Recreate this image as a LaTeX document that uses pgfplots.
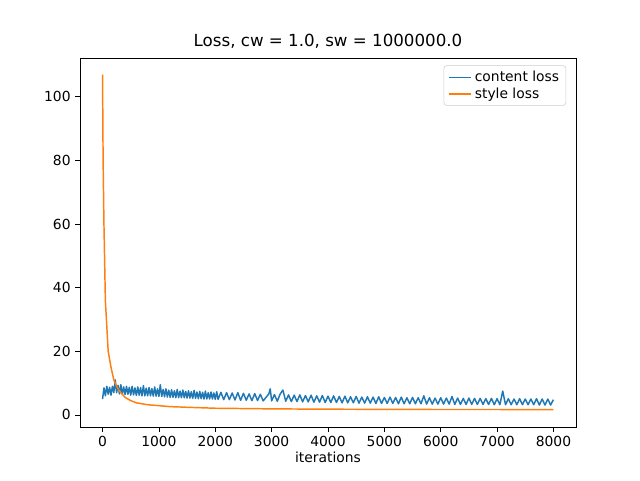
\documentclass[border=0pt]{standalone}
\usepackage{pgfplots}
\pgfplotsset{compat=1.18}
\usepackage{fontspec}
\setmainfont{DejaVu Sans}
\definecolor{mplblue}{HTML}{1F77B4}
\definecolor{mplorange}{HTML}{FF7F0E}
\begin{document}
\begin{tikzpicture}
\path[use as bounding box] (-60pt,-39.75pt) rectangle (420pt,320.25pt);
\begin{axis}[
  at={(0,0)}, anchor=south west,
  scale only axis, width=372pt, height=276.75pt,
  xmin=-400, xmax=8400, ymin=-3.8, ymax=112.2,
  xtick={0,1000,...,8000}, ytick={0,20,...,100},
  tick align=outside, tick style={black, line width=0.6pt},
  major tick length=3.5pt,
  xtick pos=bottom, ytick pos=left,
  ticklabel style={font=\fontsize{10.4}{12}\selectfont},
  /pgf/number format/assume math mode=true,
  /pgf/number format/1000 sep={},
  scaled x ticks=false,
  xlabel={iterations}, xlabel style={font=\fontsize{10.4}{12}\selectfont, yshift=3pt},
  title={Loss, cw = 1.0, sw = 1000000.0}, title style={font=\fontsize{12.5}{14}\selectfont, yshift=-2pt},
  axis line style={line width=0.6pt},
  legend style={at={(0.98,0.98)}, anchor=north east, font=\fontsize{10.4}{12}\selectfont, draw=black!20, rounded corners=2pt, row sep=-1pt},
  legend cell align=left,
]
\addplot[mplblue, line width=1.1pt, line join=round] coordinates {
(0,5.0)(25,8.5)(50,6)(75,9)(100,6.5)(125,8.7)(150,6.2)(175,9)(200,7)(225,11)(250,7)(275,9.3)(300,6.6)(325,9.5)(350,6.5)(375,8.8)(400,6.4)(425,9)(450,6.5)(475,8.7)(500,6.2)(525,9)(550,6.3)(575,8.5)(600,6.1)(625,8.8)(650,6.2)(675,8.6)(700,6.0)(725,9.2)(750,6)(775,8.4)(800,6.0)(825,8.6)(850,6)(875,8.3)(900,5.9)(925,8.8)(950,5.9)(975,8.2)(1000,5.8)(1025,9.5)(1050,5.8)(1075,8.0)(1100,5.7)(1125,8.2)(1150,5.6)(1175,7.8)(1200,5.5)(1225,7.9)(1250,5.5)(1275,7.6)(1300,5.4)(1325,8.0)(1350,5.4)(1375,7.5)(1400,5.4)(1425,7.8)(1450,5.4)(1475,7.4)(1500,5.3)(1525,7.6)(1550,5.3)(1575,7.3)(1600,5.2)(1625,7.7)(1650,5.2)(1675,7.2)(1700,5.1)(1725,7.4)(1750,5.1)(1775,7.1)(1800,5.0)(1825,7.5)(1850,5.0)(1875,7.0)(1900,5.0)(1925,7.2)(1950,5.0)(1975,6.9)(2000,4.9)(2025,7.3)(2050,4.9)(2100,7.1)(2150,4.8)(2200,7.0)(2250,4.8)(2300,6.9)(2350,4.7)(2400,7.0)(2450,4.6)(2500,6.8)(2550,4.6)(2600,6.6)(2650,4.5)(2700,6.7)(2750,4.5)(2800,6.5)(2850,4.4)(2950,6.6)(2975,8.2)(3000,4.4)(3050,6.4)(3100,4.3)(3150,6.5)(3200,7.8)(3250,4.3)(3300,6.3)(3350,4.2)(3400,6.2)(3450,4.2)(3500,6.3)(3550,4.1)(3600,6.1)(3650,4.1)(3700,6.2)(3750,4.0)(3800,6.0)(3850,4.0)(3900,6.1)(3950,3.9)(4000,5.9)(4050,3.9)(4100,6.0)(4150,3.9)(4200,5.8)(4250,3.8)(4300,5.9)(4350,3.8)(4400,5.7)(4450,3.8)(4500,5.8)(4550,3.7)(4600,5.6)(4650,3.7)(4700,5.7)(4750,3.7)(4800,5.6)(4850,3.6)(4900,5.7)(4950,3.6)(5000,5.5)(5050,3.6)(5100,5.6)(5150,3.6)(5200,5.5)(5250,3.5)(5300,5.6)(5350,3.5)(5400,5.4)(5450,3.5)(5500,5.5)(5550,3.5)(5600,5.4)(5650,3.5)(5700,6.0)(5750,3.4)(5800,5.4)(5850,3.4)(5900,5.3)(5950,3.4)(6000,5.4)(6050,3.4)(6100,5.3)(6150,3.4)(6200,5.8)(6250,3.3)(6300,5.3)(6350,3.3)(6400,5.2)(6450,3.3)(6500,5.3)(6550,3.3)(6600,5.2)(6650,3.3)(6700,5.2)(6750,3.3)(6800,5.1)(6850,3.3)(6900,5.2)(6950,3.2)(7000,5.1)(7050,3.2)(7100,7.5)(7150,3.2)(7200,5.1)(7250,3.2)(7300,5.0)(7350,3.2)(7400,5.1)(7450,3.2)(7500,5.0)(7550,3.2)(7600,5.0)(7650,3.2)(7700,5.1)(7750,3.1)(7800,5.0)(7850,3.1)(7900,5.0)(7950,3.1)(7999,4.8)
};
\addlegendentry{content loss}
\addplot[mplorange, line width=1.1pt] coordinates {
(0,107)(10,80)(25,60)(50,36)(75,28)(100,20)(150,15)(200,11)(250,9)(300,7.5)(400,5.5)(500,4.5)(600,3.8)(800,3.2)(1000,2.9)(1200,2.6)(1500,2.4)(2000,2.1)(2500,2.0)(3000,1.9)(4000,1.8)(5000,1.75)(6000,1.7)(7000,1.7)(7999,1.65)
};
\addlegendentry{style loss}
\end{axis}
\end{tikzpicture}
\end{document}
